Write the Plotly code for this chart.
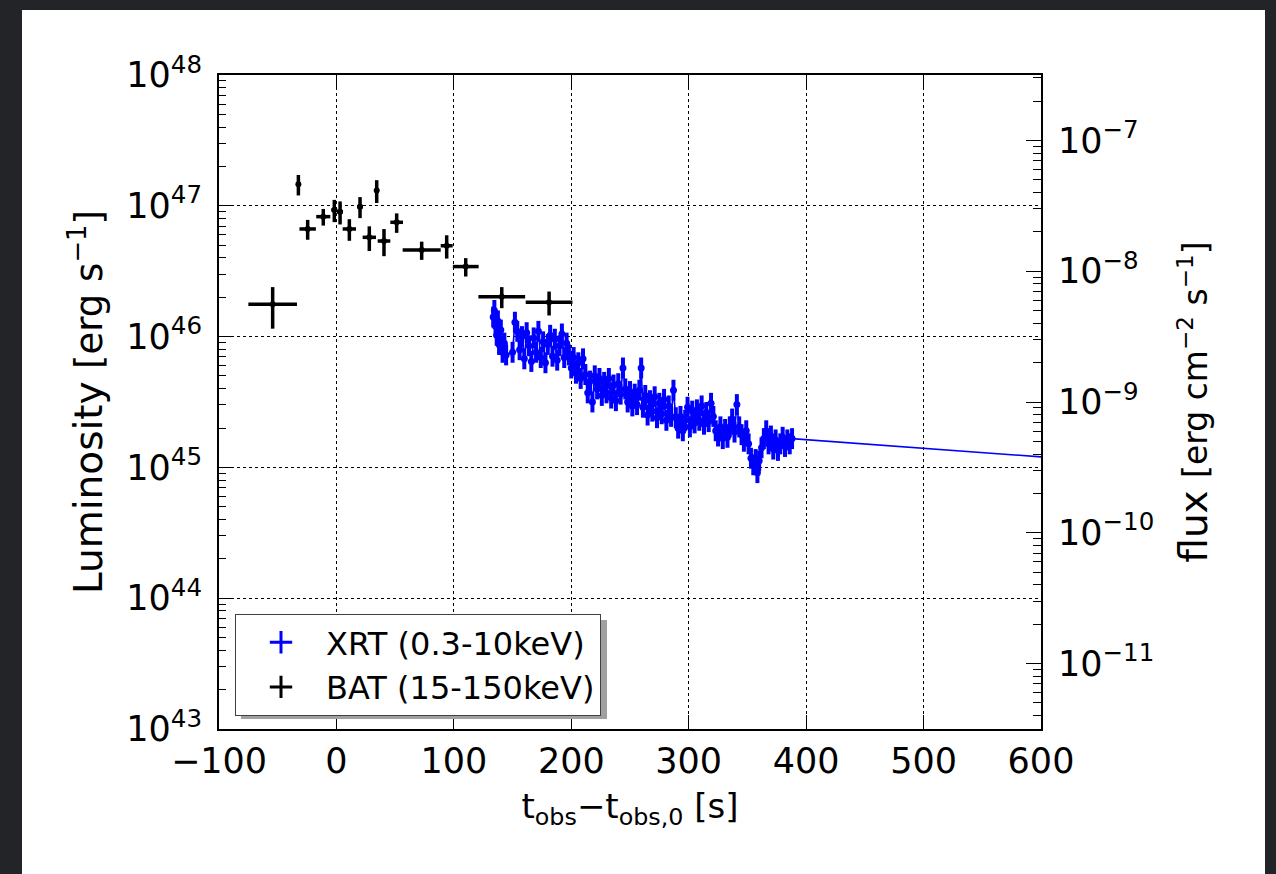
import plotly.graph_objects as go

# ---------------- data ----------------
# BAT (15-150 keV): time [s], half bin width [s], luminosity [1e46 erg/s], 1-sigma error [1e46 erg/s]
bat_t = [-54.3, -32.4, -24.5, -11.2, -1.8, 3.1, 11.0, 20.1, 28.0, 34.3, 40.5, 51.3, 72.6, 93.9, 110.1, 140.8, 181.1]
bat_dt = [20.7, 1.5, 7.0, 6.0, 2.5, 2.5, 5.7, 2.5, 5.7, 2.0, 5.4, 5.4, 16.2, 5.1, 11.0, 19.9, 19.9]
bat_L46 = [1.77, 14.6, 6.65, 8.26, 9.3, 9.0, 6.65, 9.85, 5.74, 13.1, 5.38, 7.48, 4.59, 4.95, 3.43, 2.02, 1.83]
bat_dL46 = [0.62, 2.6, 1.15, 1.2, 1.8, 1.8, 1.25, 1.8, 1.23, 2.6, 1.26, 1.27, 0.73, 1.0, 0.55, 0.37, 0.38]

# XRT (0.3-10 keV): time [s], log10 luminosity [erg/s]
xrt_t = [133.5, 134.5, 135.5, 136.5, 137.5, 138.5, 140.0, 141.5, 143.0, 144.5,
         150, 152, 154, 156, 158, 160, 162, 164, 166, 168, 170, 172, 174, 176, 178, 180, 182, 184, 186, 188,
         190, 192, 194, 196,
         198, 200, 202, 204, 206, 208, 210, 212, 214, 216, 218, 220, 222, 224, 226, 228, 230, 232, 234, 236,
         238, 240, 242, 244, 246, 248, 250, 252, 254, 256, 258, 259.5,
         261, 263, 265, 267, 269, 271, 273, 275, 277, 279, 281, 283, 285, 287, 289, 291, 293, 295, 297, 299,
         301, 303, 305, 307, 309, 311, 313, 315, 317, 319, 321, 323, 325, 327, 329, 331, 333, 335, 337, 339,
         341, 343, 345, 347, 349, 351, 353, 355, 357, 358.5,
         360, 362, 364, 366, 368, 370, 372, 374, 376, 378, 380, 382, 384, 386, 388, 5000]
xrt_logL = [46.15, 46.20, 46.08, 46.01, 46.12, 45.94, 46.05, 45.88, 45.95, 45.86,
            45.88, 46.11, 46.04, 45.90, 46.00, 45.83, 46.03, 45.93, 45.81, 45.99, 45.88, 46.04, 45.84, 45.96,
            45.80, 45.94, 46.01, 45.85, 45.98, 45.82, 45.93, 46.02, 45.84, 45.95,
            45.86, 45.76, 45.84, 45.72, 45.80, 45.68, 45.83, 45.71, 45.57, 45.66, 45.50, 45.70, 45.60, 45.68,
            45.55, 45.65, 45.57, 45.68, 45.53, 45.63, 45.51, 45.64, 45.56, 45.76, 45.60, 45.50, 45.58, 45.47,
            45.56, 45.48, 45.59, 45.76,
            45.46, 45.55, 45.40, 45.51, 45.43, 45.54, 45.38, 45.49, 45.41, 45.52, 45.36, 45.47, 45.39, 45.59,
            45.38, 45.30, 45.39, 45.28, 45.36, 45.46, 45.31, 45.43, 45.34, 45.44, 45.36, 45.47, 45.33, 45.42,
            45.35, 45.49, 45.39, 45.28, 45.24, 45.31, 45.22, 45.29, 45.23, 45.31, 45.37, 45.27, 45.48, 45.31,
            45.25, 45.20, 45.28, 45.18, 45.07, 45.02, 45.06, 44.96,
            45.05, 45.15, 45.22, 45.28, 45.18, 45.24, 45.14, 45.21, 45.13, 45.18, 45.23, 45.16, 45.21, 45.18,
            45.22, 42.18]
xrt_dt = 1.5          # half bin width [s]
xrt_err_dex = 0.08    # typical 1-sigma error in dex

lum_ticks = [43, 44, 45, 46, 47, 48]
flux_ticks = [-11, -10, -9, -8, -7]
flux_offset = 54.5    # log10(4 pi d^2): L = F * 10**54.5

# ---------------- derived ----------------
bat_L = [v * 1e46 for v in bat_L46]
bat_dL = [v * 1e46 for v in bat_dL46]
xrt_L = [10.0 ** v for v in xrt_logL]
xrt_up = [L * (10.0 ** xrt_err_dex - 1) for L in xrt_L]
xrt_dn = [L * (1 - 10.0 ** (-xrt_err_dex)) for L in xrt_L]

FONT = "DejaVu Sans"
BLUE = "#0000ff"

fig = go.Figure()

fig.add_trace(go.Scatter(
    x=xrt_t, y=xrt_L, mode="lines+markers",
    line=dict(color=BLUE, width=1.6),
    marker=dict(color=BLUE, size=7),
    error_y=dict(type="data", array=xrt_up, arrayminus=xrt_dn, color=BLUE, thickness=4, width=0),
    error_x=dict(type="constant", value=xrt_dt, color=BLUE, thickness=4, width=0),
    showlegend=False,
))

fig.add_trace(go.Scatter(
    x=bat_t, y=bat_L, mode="markers",
    marker=dict(color="black", size=6),
    error_y=dict(type="data", array=bat_dL, color="black", thickness=3.5, width=0),
    error_x=dict(type="data", array=bat_dt, color="black", thickness=3.5, width=0),
    showlegend=False,
))

# legend entries
fig.add_trace(go.Scatter(x=[None], y=[None], mode="markers", name="XRT (0.3-10keV)",
                         marker=dict(symbol="cross-thin", size=30, color=BLUE, line=dict(color=BLUE, width=3))))
fig.add_trace(go.Scatter(x=[None], y=[None], mode="markers", name="BAT (15-150keV)",
                         marker=dict(symbol="cross-thin", size=30, color="black", line=dict(color="black", width=3))))

# secondary flux axis anchor trace
fig.add_trace(go.Scatter(x=[None], y=[None], yaxis="y2", showlegend=False, hoverinfo="skip"))

# plot area in pixels
L_PX, R_PX, T_PX, B_PX = 219, 1041, 75, 729
W, H = 1276, 874
pw, ph = R_PX - L_PX, B_PX - T_PX


def px(xp):
    return (xp - L_PX) / pw


def py(yp):
    return (B_PX - yp) / ph


shapes = [
    # white panel on the dark page
    dict(type="rect", xref="paper", yref="paper", x0=px(22), x1=px(1265), y0=py(874), y1=py(10),
         fillcolor="white", line=dict(width=0), layer="below"),
    # legend shadow
    dict(type="rect", xref="paper", yref="paper", x0=px(241), x1=px(607), y0=py(719), y1=py(620),
         fillcolor="#a0a0a0", line=dict(width=0), layer="above"),
]

minor_vals = [k * 10.0 ** e for e in range(43, 48) for k in range(2, 10)]
minor_vals2 = [k * 10.0 ** e for e in range(-12, -6) for k in range(2, 10)]

fig.update_layout(
    width=W, height=H,
    margin=dict(l=L_PX, r=W - R_PX, t=T_PX, b=H - B_PX),
    paper_bgcolor="#232427", plot_bgcolor="white",
    font=dict(family=FONT, color="black", size=30),
    shapes=shapes,
    xaxis=dict(
        range=[-100, 600], tickmode="linear", tick0=-100, dtick=100,
        ticks="inside", ticklen=14, tickwidth=1, tickcolor="black",
        showline=True, linewidth=2, linecolor="black", mirror="ticks",
        showgrid=True, gridcolor="black", griddash="dot", gridwidth=1, zeroline=False,
        tickfont=dict(size=35, family=FONT),
        title=dict(text="t<sub>obs</sub>\u2212t<sub>obs,0</sub> [s]", font=dict(size=34, family=FONT), standoff=14),
    ),
    yaxis=dict(
        type="log", range=[43, 48],
        tickmode="array", tickvals=[10.0 ** v for v in lum_ticks],
        ticktext=["10<sup>%d</sup>" % v for v in lum_ticks],
        ticks="inside", ticklen=14, tickwidth=1, tickcolor="black",
        minor=dict(tickmode="array", tickvals=minor_vals, ticks="inside", ticklen=7, tickcolor="black", showgrid=False),
        showline=True, linewidth=2, linecolor="black", mirror=False,
        showgrid=True, gridcolor="black", griddash="dot", gridwidth=1, zeroline=False,
        tickfont=dict(size=35, family=FONT), ticklabelstandoff=8,
        title=dict(text="Luminosity <span style='font-size:37px'>[erg s<sup>\u22121</sup>]</span>",
                   font=dict(size=39, family=FONT), standoff=12),
    ),
    yaxis2=dict(
        type="log", range=[lum_ticks[0] - flux_offset, lum_ticks[-1] - flux_offset],
        overlaying="y", side="right", anchor="x",
        tickmode="array", tickvals=[10.0 ** v for v in flux_ticks],
        ticktext=["10<sup>\u2212%d</sup>" % (-v) for v in flux_ticks],
        ticks="inside", ticklen=15, tickwidth=1, tickcolor="black",
        minor=dict(tickmode="array", tickvals=minor_vals2, ticks="inside", ticklen=8, tickcolor="black", showgrid=False),
        showline=True, linewidth=2, linecolor="black",
        showgrid=False, zeroline=False,
        tickfont=dict(size=35, family=FONT), ticklabelstandoff=8,
        title=dict(text="flux <span style='font-size:33px'>[erg cm<sup>\u22122</sup> s<sup>\u22121</sup>]</span>",
                   font=dict(size=39, family=FONT), standoff=26),
    ),
    legend=dict(
        x=px(235), y=py(614), xanchor="left", yanchor="top",
        bgcolor="white", bordercolor="#404040", borderwidth=1,
        font=dict(size=32, family=FONT), itemwidth=80,
        tracegroupgap=0,
    ),
)

fig.write_html("out.html")
